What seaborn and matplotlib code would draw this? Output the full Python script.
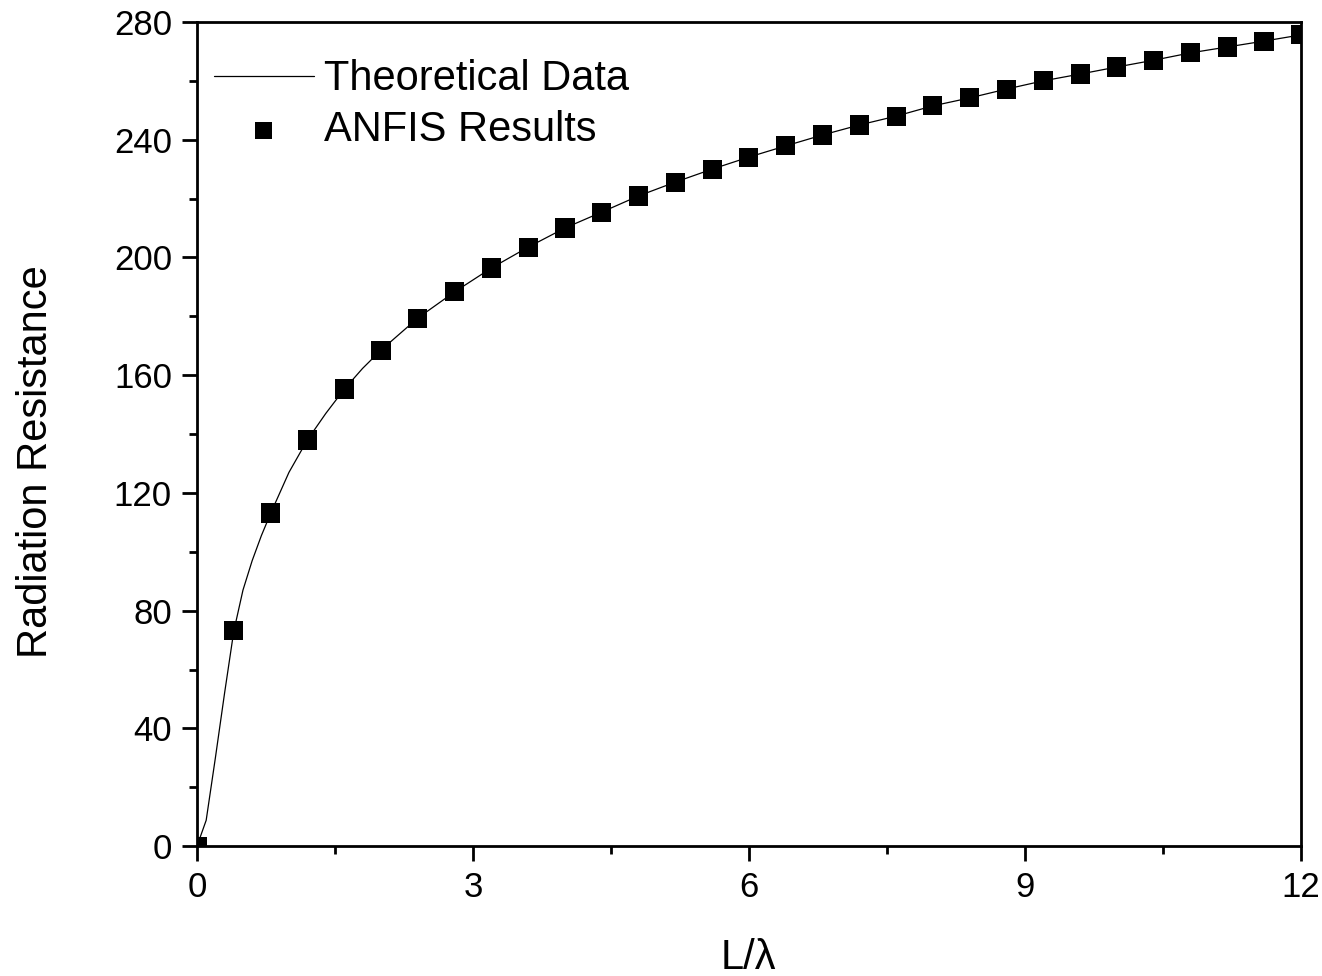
import numpy as np
import pandas as pd
import seaborn as sns
import matplotlib
matplotlib.use("Agg")
import matplotlib.pyplot as plt
from matplotlib.ticker import MultipleLocator

# ------------------------ DATA ------------------------

# curva teórica (L/lambda, resistência de radiação)
theory_x = [0.0, 0.1, 0.2, 0.3, 0.4, 0.5, 0.6, 0.7, 0.8, 0.9, 1.0, 1.2, 1.4, 1.6,
            1.8, 2.0, 2.4, 2.8, 3.2, 3.6, 4.0, 4.4, 4.8, 5.2, 5.6, 6.0, 6.4, 6.8,
            7.2, 7.6, 8.0, 8.4, 8.8, 9.2, 9.6, 10.0, 10.4, 10.8, 11.2, 11.6, 12.0]
theory_y = [0.0, 8.8, 30.0, 52.0, 73.0, 87.0, 97.0, 105.5, 113.0, 120.0, 127.0, 138.0,
            147.0, 155.2, 162.3, 168.5, 179.4, 188.3, 196.4, 203.5, 210.0, 215.4,
            220.9, 225.6, 230.0, 234.1, 237.9, 241.6, 245.0, 248.0, 251.5, 254.2,
            257.2, 260.0, 262.3, 264.7, 267.0, 269.5, 271.5, 273.5, 275.6]

# resultados ANFIS
anfis_x = [0.0, 0.4, 0.8, 1.2, 1.6, 2.0, 2.4, 2.8, 3.2, 3.6, 4.0, 4.4, 4.8, 5.2, 5.6,
           6.0, 6.4, 6.8, 7.2, 7.6, 8.0, 8.4, 8.8, 9.2, 9.6, 10.0, 10.4, 10.8, 11.2,
           11.6, 12.0]
anfis_y = [0.0, 73.4, 113.2, 138.0, 155.3, 168.5, 179.4, 188.3, 196.4, 203.5, 210.0,
           215.4, 220.9, 225.6, 230.0, 234.1, 237.9, 241.6, 245.0, 248.0, 251.5,
           254.2, 257.2, 260.0, 262.3, 264.7, 267.0, 269.5, 271.5, 273.5, 275.6]

df_theory = pd.DataFrame({"x": theory_x, "y": theory_y})
df_anfis = pd.DataFrame({"x": anfis_x, "y": anfis_y})

# ------------------------ PLOT ------------------------

sns.set_style("ticks")
plt.rcParams["font.family"] = ["Liberation Sans", "DejaVu Sans"]
plt.rcParams["text.color"] = "black"
plt.rcParams["axes.labelcolor"] = "black"

fig = plt.figure(figsize=(13.22, 9.76), dpi=100)
ax = fig.add_axes([0.149, 0.133, 0.835, 0.8445])

sns.lineplot(data=df_theory, x="x", y="y", ax=ax, color="black", linewidth=0.9,
             label="Theoretical Data")
sns.scatterplot(data=df_anfis, x="x", y="y", ax=ax, color="black", marker="s",
                s=190, edgecolor="none", label="ANFIS Results", zorder=3)

ax.set_xlim(0, 12)
ax.set_ylim(0, 280)
ax.xaxis.set_major_locator(MultipleLocator(3))
ax.xaxis.set_minor_locator(MultipleLocator(1.5))
ax.yaxis.set_major_locator(MultipleLocator(40))
ax.yaxis.set_minor_locator(MultipleLocator(20))

for side in ["left", "right", "top", "bottom"]:
    ax.spines[side].set_linewidth(2.0)
    ax.spines[side].set_color("black")

ax.tick_params(which="major", direction="out", length=11, width=2.0,
               labelsize=25, pad=7, colors="black")
ax.tick_params(which="minor", direction="out", length=6, width=2.0, colors="black")

ax.set_xlabel("L/λ", fontsize=30)
ax.set_ylabel("Radiation Resistance", fontsize=30)
ax.xaxis.set_label_coords(0.5, -0.111)
ax.yaxis.set_label_coords(-0.128, 0.467)

leg = ax.legend(loc="upper left", bbox_to_anchor=(0.0, 0.975), frameon=False,
                fontsize=30, handlelength=2.4, handletextpad=0.25,
                labelspacing=0.27, borderaxespad=0.0)
leg.legend_handles[1].set_sizes([150])

fig.savefig("out.png", dpi=100)
